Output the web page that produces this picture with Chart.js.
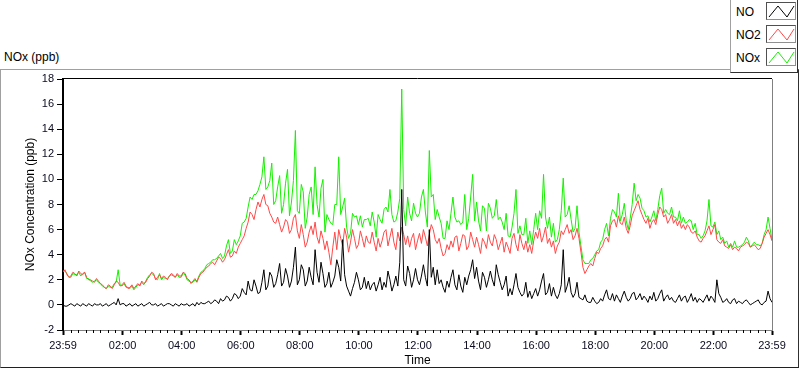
<!DOCTYPE html>
<html>
<head>
<meta charset="utf-8">
<script src="https://cdn.jsdelivr.net/npm/chart.js@4.4.1/dist/chart.umd.min.js"></script>
<style>
  body { margin: 0; background: #fff; font-family: "Liberation Sans", Arial, sans-serif; }
  #wrap { position: relative; width: 800px; height: 369px; overflow: hidden; }
  #panel { position: absolute; left: 0; top: 69px; width: 799px; height: 299px; box-sizing: border-box;
           border-left: 1px solid #a0a0a0; border-top: 1px solid #a0a0a0;
           border-right: 1px solid #303030; border-bottom: 1px solid #202020; }
  #panelTitle { position: absolute; left: 4px; top: 50px; font-size: 12px; color: #000; }
  #chart { position: absolute; left: 0; top: 0; }
  #legend { position: absolute; left: 730px; top: -1px; width: 68px; height: 74px; box-sizing: border-box; background: #fff;
            border-left: 1px solid #a0a0a0; border-bottom: 1px solid #303030; border-right: 1px solid #303030; }
  .item { position: absolute; left: 5px; font-size: 12px; color: #000; }
  .sw { position: absolute; left: 35px; width: 30px; height: 18px; box-sizing: border-box;
        border: 1px solid #505050; border-right-color: #909090; border-bottom-color: #909090; }
</style>
</head>
<body>
<div id="wrap">
  <div id="panel"></div>
  <div id="panelTitle">NOx (ppb)</div>
  <canvas id="chart" width="800" height="369"></canvas>
  <div id="legend"></div>
</div>
<script>
// time axis: minutes after 23:59, one sample every 4 minutes
const stepMin = 4;
const xTicks = [0, 121, 241, 361, 481, 601, 721, 841, 961, 1081, 1201, 1321, 1440];
const yTicks = [-2, 0, 2, 4, 6, 8, 10, 12, 14, 16, 18];
const seriesNames = ['NO', 'NO2', 'NOx'];
const seriesColors = ['#000000', '#ff4848', '#16f000'];

const noValues = [
  0.0,-0.1, -0.1,0.0, 0.1,0.0, -0.1,0.1, 0.0,-0.1, 0.1,0.0, -0.1,0.1, 0.0,-0.1, 0.1,0.0, 0.0,0.1,
  -0.1,0.0, 0.1,-0.1, 0.0,0.1, 0.2,0.0, 0.5,0.0, 0.1,0.1, -0.1,0.0, 0.1,-0.1, 0.0,0.1, -0.1,0.0,
  0.1,-0.1, 0.0,0.1, 0.2,0.0, 0.0,0.1, -0.1,0.0, 0.1,-0.1, 0.0,0.1, 0.1,0.0, -0.1,0.1, 0.0,-0.1,
  0.1,0.0, 0.0,0.1, -0.1,0.0, 0.1,-0.1, 0.2,0.0, 0.2,0.1, 0.1,0.2, 0.3,0.1, 0.2,0.4, 0.3,0.1,
  0.5,0.3, 0.4,0.7, 0.6,0.3, 0.5,0.9, 0.8,0.5, 0.7,1.3, 1.0,0.8, 1.9,1.2, 1.1,2.0, 1.5,0.9,
  1.0,1.8, 2.8,1.2, 1.5,2.6, 2.3,1.4, 1.7,2.4, 3.3,1.5, 1.8,2.9, 2.3,1.4, 1.9,3.0, 4.6,1.6,
  2.0,3.2, 2.8,1.5, 1.9,3.0, 2.2,1.6, 4.4,2.6, 1.8,3.4, 2.5,1.4, 1.7,2.6, 1.4,1.8, 2.3,3.6,
  3.0,1.9, 5.2,2.4, 1.5,1.1, 0.7,1.3, 1.8,2.6, 2.0,1.2, 1.4,2.2, 1.3,1.9, 1.2,1.6, 1.8,1.1,
  1.6,2.2, 1.2,1.8, 1.4,2.7, 2.0,1.1, 1.6,2.3, 1.5,3.4, 9.2,2.0, 1.5,3.1, 2.5,1.4, 2.0,2.9,
  2.0,1.6, 2.3,3.2, 2.2,1.5, 6.0,2.2, 3.0,1.6, 2.8,1.7, 2.0,1.4, 1.0,1.9, 1.4,2.2, 2.8,1.6,
  1.2,2.4, 1.5,1.0, 2.2,1.6, 2.3,2.8, 3.6,2.1, 3.0,1.9, 1.2,2.6, 2.2,1.4, 2.0,2.7, 2.0,1.5,
  3.2,2.4, 1.8,1.2, 1.6,2.3, 0.7,1.3, 0.8,1.6, 2.5,1.4, 1.0,0.7, 0.9,1.8, 0.6,1.1, 0.5,0.9,
  1.3,0.7, 1.2,1.9, 2.5,0.8, 1.0,1.7, 0.7,1.4, 0.8,0.5, 0.9,1.6, 4.4,1.0, 1.5,2.2, 1.0,0.6,
  0.9,1.8, 0.6,0.5, 0.4,0.8, 0.3,0.2, 0.2,0.6, 0.3,0.1, 0.2,0.5, 0.3,0.8, 1.2,0.5, 0.4,0.9,
  0.3,0.8, 0.5,0.2, 0.7,1.1, 0.6,0.3, 0.5,0.9, 1.0,0.4, 0.6,0.9, 0.4,0.7, 0.5,0.2, 0.7,0.4,
  1.0,0.3, 0.5,0.9, 1.2,0.3, 0.6,0.8, 0.4,0.6, 0.3,0.2, 0.5,0.8, 0.3,0.6, 0.7,0.2, 0.5,0.9,
  0.3,0.6, 0.2,0.5, 0.4,0.2, 0.5,0.8, 0.3,0.7, 0.5,0.2, 2.0,0.9, 0.6,0.2, 0.3,0.5, 0.2,0.1,
  0.4,0.5, 0.1,0.3, 0.2,0.1, 0.3,0.4, 0.2,0.0, 0.1,0.2, 0.3,0.4, 0.1,0.0, 0.2,0.3, 1.1,0.5,
  0.2
];
const no2Values = [
  2.6,2.8, 2.4,2.2, 2.3,2.6, 2.5,2.3, 2.7,2.5, 2.4,2.6, 2.2,2.0, 2.0,1.9, 1.8,2.1, 1.9,1.7,
  1.6,1.4, 1.3,1.6, 1.5,1.3, 1.6,1.9, 1.8,1.5, 1.6,1.8, 1.5,1.3, 1.4,1.6, 1.3,1.5, 1.7,1.5,
  1.9,1.7, 1.8,2.1, 2.3,2.6, 2.5,2.0, 2.2,2.4, 2.1,2.3, 2.2,2.0, 2.3,2.5, 2.4,2.2, 2.5,2.3,
  2.3,2.6, 2.5,2.1, 2.0,1.7, 1.9,2.1, 1.8,2.2, 2.5,2.6, 2.8,3.0, 3.1,3.3, 3.4,3.2, 3.5,3.8,
  3.7,3.4, 3.6,4.0, 4.4,3.8, 3.9,4.3, 4.1,4.6, 4.9,5.2, 5.5,6.1, 6.6,7.4, 7.2,6.8, 7.6,8.2,
  7.8,8.4, 8.8,8.0, 7.9,7.3, 7.0,6.6, 6.5,7.0, 6.4,5.8, 6.2,6.8, 6.6,5.7, 6.0,6.9, 7.2,5.9,
  5.3,6.4, 5.6,4.6, 5.0,5.8, 6.3,5.6, 6.6,5.4, 4.9,5.9, 5.3,4.4, 5.1,4.2, 3.2,4.6, 5.8,4.4,
  6.0,5.3, 4.7,6.1, 5.4,4.2, 5.0,6.0, 5.3,4.5, 4.8,5.9, 5.3,4.6, 5.5,5.0, 4.9,5.8, 5.0,4.3,
  5.3,4.6, 5.1,5.8, 6.0,4.7, 5.4,6.1, 5.0,4.4, 5.8,5.1, 6.2,5.6, 4.8,5.5, 4.6,5.3, 5.7,4.4,
  5.1,5.7, 4.9,6.0, 5.4,4.7, 5.6,6.4, 6.0,5.2, 4.9,5.3, 4.5,3.9, 4.1,4.8, 4.4,5.1, 4.6,5.4,
  5.5,4.3, 4.9,5.6, 5.5,4.4, 4.7,5.8, 5.2,4.6, 5.4,4.8, 4.1,5.3, 5.0,4.5, 5.6,5.0, 4.7,5.6,
  5.2,4.4, 4.9,5.4, 4.2,5.0, 4.6,4.1, 5.3,5.7, 4.8,4.3, 5.6,4.9, 4.4,5.1, 4.2,4.8, 4.1,5.1,
  5.8,5.3, 6.1,5.0, 5.5,6.2, 4.9,5.3, 4.6,5.1, 4.1,4.7, 5.0,5.9, 5.6,6.0, 6.4,5.7, 6.0,5.2,
  5.5,6.1, 5.3,4.2, 3.0,2.5, 2.8,3.1, 3.3,3.1, 3.7,4.2, 4.1,4.5, 4.7,5.2, 5.4,5.0, 6.3,6.7,
  6.8,6.2, 7.1,6.5, 6.4,7.0, 6.1,5.7, 6.3,7.1, 7.5,7.9, 8.3,7.6, 7.2,6.8, 6.5,6.9, 6.1,6.6,
  6.8,6.4, 7.2,7.8, 7.6,7.0, 7.2,6.5, 6.8,7.2, 6.5,6.8, 6.3,6.7, 6.1,6.4, 6.0,6.4, 6.2,5.8,
  5.7,5.9, 5.4,5.1, 5.0,5.3, 5.5,5.9, 6.3,5.6, 6.0,6.4, 5.2,5.0, 4.9,5.2, 4.7,4.6, 4.5,4.8,
  4.4,4.6, 4.5,4.3, 4.6,4.7, 4.8,5.0, 4.9,4.6, 4.7,4.8, 4.6,4.4, 4.5,4.9, 5.4,5.7, 6.0,5.6,
  5.1
];
const noxValues = [
  2.7,2.7, 2.5,2.2, 2.2,2.5, 2.4,2.4, 2.6,2.3, 2.5,2.6, 2.1,2.1, 1.9,1.8, 1.9,2.0, 1.8,1.7,
  1.5,1.4, 1.3,1.5, 1.4,1.4, 1.7,1.8, 2.8,1.6, 1.5,1.7, 1.4,1.4, 1.3,1.5, 1.2,1.4, 1.6,1.6,
  1.8,1.6, 1.9,2.2, 2.4,2.5, 2.4,2.1, 2.0,2.5, 2.0,2.2, 2.1,2.1, 2.3,2.4, 2.3,2.2, 2.4,2.2,
  2.2,2.5, 2.4,2.0, 1.9,1.8, 1.8,2.0, 1.9,2.3, 2.6,2.7, 2.9,3.2, 3.3,3.4, 3.6,3.6, 3.7,3.9,
  4.1,3.7, 3.9,4.7, 5.2,4.1, 4.3,5.2, 4.8,5.1, 5.5,6.5, 6.6,6.9, 7.8,8.6, 8.4,8.8, 8.8,9.1,
  9.6,10.2, 11.8,9.2, 9.4,9.9, 11.3,8.0, 8.3,9.4, 10.3,7.3, 8.0,9.7, 10.8,7.1, 8.2,9.9, 13.9,7.5,
  7.3,9.6, 9.0,6.1, 7.0,8.8, 9.4,7.2, 11.0,8.0, 7.0,9.3, 10.0,5.8, 7.2,6.8, 6.5,6.4, 8.0,8.0,
  11.8,7.2, 7.8,8.5, 6.2,5.3, 5.7,7.3, 7.0,7.1, 6.4,7.1, 6.2,6.8, 6.8,6.9, 6.3,7.4, 6.6,5.4,
  7.2,6.8, 6.5,7.6, 7.8,7.4, 9.2,7.2, 6.6,6.7, 7.4,8.5, 17.2,7.6, 6.3,8.6, 7.3,6.7, 8.1,7.3,
  7.0,7.3, 8.6,9.2, 7.4,6.2, 12.3,8.6, 8.8,6.8, 7.6,7.0, 6.5,5.3, 5.3,6.7, 6.0,7.3, 8.6,7.0,
  6.6,6.7, 6.4,6.6, 8.8,6.0, 6.9,8.6, 10.4,6.7, 8.2,6.7, 5.9,7.9, 7.7,5.9, 8.1,7.7, 6.9,7.1,
  8.4,6.8, 7.0,6.6, 6.0,7.3, 5.5,5.4, 6.2,7.3, 9.2,5.7, 6.3,5.6, 5.6,6.9, 4.9,5.9, 4.8,6.0,
  7.3,6.0, 7.5,6.9, 10.4,7.0, 6.1,7.0, 5.4,6.5, 5.0,5.2, 6.0,7.5, 10.1,7.0, 7.2,7.9, 6.8,5.8,
  6.1,7.9, 5.8,4.7, 3.6,3.3, 3.3,3.3, 3.6,3.7, 4.0,4.3, 4.4,5.0, 5.2,6.0, 6.5,5.5, 6.9,7.6,
  7.4,7.0, 8.9,6.7, 7.2,8.1, 6.7,6.0, 6.9,8.0, 9.7,8.3, 8.8,8.5, 7.7,7.5, 7.0,7.1, 6.6,7.0,
  7.5,6.7, 7.6,8.7, 9.3,7.3, 7.6,7.3, 7.2,7.8, 7.0,7.0, 6.7,7.5, 6.5,7.0, 6.5,6.6, 6.8,6.7,
  6.0,6.5, 5.6,5.6, 5.3,5.5, 5.9,6.7, 8.4,6.3, 6.2,6.6, 5.6,5.9, 5.2,5.4, 4.9,5.1, 4.6,4.9,
  4.6,5.1, 4.6,4.6, 4.7,4.8, 5.0,5.4, 5.1,4.6, 4.8,5.0, 4.8,4.8, 4.7,4.9, 5.6,6.0, 7.0,6.1,
  5.2
];

function toPoints(values) {
  return values.map((v, i) => ({ x: i * stepMin, y: v }));
}

function timeLabel(v) {
  if (v === 0 || v === 1440) return '23:59';
  const m = (v + 1439) % 1440;
  const h = Math.floor(m / 60), mm = m % 60;
  return String(h).padStart(2, '0') + ':' + String(mm).padStart(2, '0');
}

// legend boxes
const legend = document.getElementById('legend');
const rowTops = [6, 29, 52];
const boxTops = [3, 26, 49];
seriesNames.forEach((name, i) => {
  const t = document.createElement('div');
  t.className = 'item';
  t.style.top = rowTops[i] + 'px';
  t.textContent = name;
  legend.appendChild(t);
  const sw = document.createElement('div');
  sw.className = 'sw';
  sw.style.top = boxTops[i] + 'px';
  sw.innerHTML = '<svg width="28" height="16"><polyline points="2,14 11,3 20,14 27,3" fill="none" stroke="' +
    seriesColors[i] + '" stroke-width="1"/></svg>';
  legend.appendChild(sw);
});

// frame + minor ticks drawn against the chart's own scales
const framePlugin = {
  id: 'frame',
  afterDraw(chart) {
    const { ctx, chartArea: a, scales } = chart;
    ctx.save();
    ctx.lineWidth = 1;
    ctx.strokeStyle = '#000';
    ctx.beginPath(); ctx.moveTo(a.left, a.top - 0.5); ctx.lineTo(a.right, a.top - 0.5); ctx.stroke();
    ctx.strokeStyle = '#808080';
    ctx.beginPath(); ctx.moveTo(a.right + 0.5, a.top); ctx.lineTo(a.right + 0.5, a.bottom); ctx.stroke();
    ctx.strokeStyle = '#000';
    for (let k = 1; k < 96; k++) {
      if (k % 8 === 0) continue;
      const x = Math.round(scales.x.getPixelForValue(k * 15 + 1)) + 0.5;
      ctx.beginPath(); ctx.moveTo(x, a.bottom); ctx.lineTo(x, a.bottom + 3); ctx.stroke();
    }
    ctx.restore();
  }
};

const tickFont = { family: '"Liberation Sans", Arial, sans-serif', size: 11 };
const titleFont = { family: '"Liberation Sans", Arial, sans-serif', size: 12 };

new Chart(document.getElementById('chart'), {
  type: 'line',
  data: {
    datasets: [
      { label: seriesNames[0], data: toPoints(noValues), borderColor: seriesColors[0] },
      { label: seriesNames[1], data: toPoints(no2Values), borderColor: seriesColors[1] },
      { label: seriesNames[2], data: toPoints(noxValues), borderColor: seriesColors[2] }
    ]
  },
  options: {
    responsive: false,
    animation: false,
    layout: { padding: { top: 79, right: 28, left: 0, bottom: 0 } },
    elements: { point: { radius: 0 }, line: { borderWidth: 1, tension: 0 } },
    plugins: { legend: { display: false }, tooltip: { enabled: false } },
    scales: {
      x: {
        type: 'linear', min: 0, max: 1440,
        afterBuildTicks: s => { s.ticks = xTicks.map(v => ({ value: v })); },
        afterFit: s => { s.height = 39; },
        ticks: { callback: v => timeLabel(v), autoSkip: false, maxRotation: 0, color: '#0a0a20', font: tickFont, padding: 4 },
        grid: { drawOnChartArea: false, tickLength: 5, tickWidth: 2, tickColor: '#000' },
        border: { display: true, color: '#808080', width: 1 },
        title: { display: true, text: 'Time', color: '#000', font: titleFont, padding: { top: 0, bottom: 1 } }
      },
      y: {
        min: -2, max: 18,
        afterBuildTicks: s => { s.ticks = yTicks.map(v => ({ value: v })); },
        afterFit: s => { s.width = 63; },
        ticks: { color: '#0a0a20', font: tickFont, padding: 3 },
        grid: { drawOnChartArea: false, tickLength: 6, tickColor: '#000' },
        border: { display: true, color: '#000', width: 2 },
        title: { display: true, text: 'NOx Concentration (ppb)', color: '#000', font: titleFont, padding: { top: 23, bottom: 0 } }
      }
    }
  },
  plugins: [framePlugin]
});
</script>
</body>
</html>
